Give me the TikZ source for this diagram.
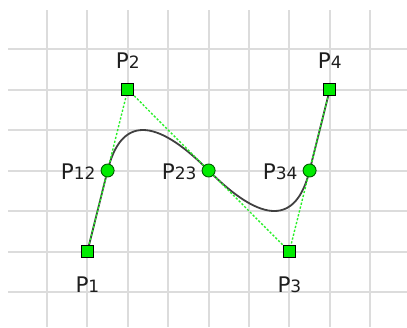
\documentclass[tikz,border=0pt]{standalone}
\usepackage{fontspec}
\setmainfont{DejaVu Sans}
\usetikzlibrary{calc}
\definecolor{gridc}{RGB}{220,220,220}
\definecolor{ptfill}{RGB}{0,235,0}
\definecolor{dashc}{RGB}{40,240,40}
\definecolor{curvec}{RGB}{64,64,64}
\definecolor{circb}{RGB}{0,90,0}
\definecolor{txt}{RGB}{30,30,30}
\newcommand\plab[1]{{\fontsize{21.5}{21.5}\selectfont P}{\fontsize{17}{17}\selectfont #1}}
\tikzset{
  gridline/.style={gridc, line width=2pt},
  ctrlpt/.style={draw=black, fill=ptfill, line width=1.2pt, minimum size=12pt, inner sep=0pt, rectangle},
  midpt/.style={draw=circb, fill=ptfill, line width=0.9pt, minimum size=13pt, inner sep=0pt, circle},
  hull/.style={dashc, line width=1.4pt, dash pattern=on 2.2pt off 1.8pt},
  curve/.style={curvec, line width=1.8pt},
  lab/.style={text=txt, inner sep=0pt}
}
\begin{document}
\begin{tikzpicture}[x=1pt,y=-1pt]
\useasboundingbox (0,0) rectangle (407,327);
\fill[white] (0,0) rectangle (407,327);
% grid
\foreach \k in {0,...,8} \draw[gridline] (47+40.4*\k,10) -- (47+40.4*\k,327);
\foreach \k in {0,...,6} \draw[gridline] (8,49+40.5*\k) -- (407,49+40.5*\k);
% points
\coordinate (P1) at (87.4,251.5);
\coordinate (P2) at (127.8,89.5);
\coordinate (P3) at (289.4,251.5);
\coordinate (P4) at (329.8,89.5);
\coordinate (P12) at ($(P1)!0.5!(P2)$);
\coordinate (P23) at ($(P2)!0.5!(P3)$);
\coordinate (P34) at ($(P3)!0.5!(P4)$);
% curve
\draw[curve] (P1) -- (P12)
  .. controls ($(P12)!2/3!(P2)$) and ($(P23)!2/3!(P2)$) .. (P23)
  .. controls ($(P23)!2/3!(P3)$) and ($(P34)!2/3!(P3)$) .. (P34)
  -- (P4);
% control polygon
\draw[hull] (P1) -- (P2) -- (P3) -- (P4);
% markers
\node[ctrlpt] (m1) at (P1) {};
\node[ctrlpt] (m2) at (P2) {};
\node[ctrlpt] (m3) at (P3) {};
\node[ctrlpt] (m4) at (P4) {};
\node[midpt] (m12) at (P12) {};
\node[midpt] (m23) at (P23) {};
\node[midpt] (m34) at (P34) {};
% labels
\node[lab] (l1) at ($(P1)+(0,33)$) {\plab{1}};
\node[lab] (l2) at ($(P2)+(0,-29)$) {\plab{2}};
\node[lab] (l3) at ($(P3)+(0,33)$) {\plab{3}};
\node[lab] (l4) at ($(P4)+(0,-29)$) {\plab{4}};
\node[lab, anchor=east] (l12) at ($(P12)+(-12,1)$) {\plab{12}};
\node[lab, anchor=east] (l23) at ($(P23)+(-12,1)$) {\plab{23}};
\node[lab, anchor=east] (l34) at ($(P34)+(-12,1)$) {\plab{34}};
\end{tikzpicture}
\end{document}
